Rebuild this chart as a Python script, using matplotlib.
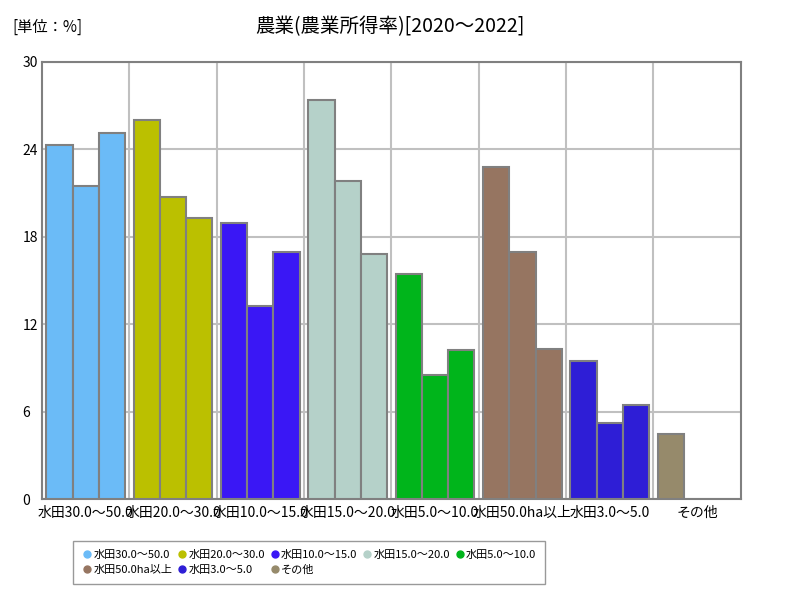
import numpy as np
import matplotlib.pyplot as plt

plt.rcParams['font.family'] = ['Noto Sans CJK JP', 'DejaVu Sans']

# ----------- Data -----------
categories = ["水田30.0～50.0", "水田20.0～30.0", "水田10.0～15.0", "水田15.0～20.0",
              "水田5.0～10.0", "水田50.0ha以上", "水田3.0～5.0", "その他"]
years = [2020, 2021, 2022]
v2020 = [24.3, 26.0, 18.95, 27.4, 15.45, 22.8, 9.47, 4.48]
v2021 = [21.5, 20.75, 13.25, 21.85, 8.55, 16.95, 5.2, np.nan]
v2022 = [25.1, 19.3, 16.97, 16.8, 10.25, 10.27, 6.47, np.nan]
colors = ["#6BBBF7", "#BBC000", "#3A17F5", "#B5D1C9",
          "#00B51B", "#967561", "#2E1ED6", "#968A6B"]

# ----------- Plot -----------
fig = plt.figure(figsize=(8, 6), dpi=100)
ax = fig.add_axes([0.0525, 0.168, 0.8735, 0.729])

x = np.arange(len(categories))
w = 0.3
for j, vals in enumerate([v2020, v2021, v2022]):
    ax.bar(x - w + j * w, vals, width=w, color=colors,
           edgecolor="#808080", linewidth=1.5, zorder=3)

ax.set_xlim(-0.5, len(categories) - 0.5)
ax.set_ylim(0, 30)
ax.set_yticks([0, 6, 12, 18, 24, 30])
ax.set_xticks(x)
ax.set_xticklabels(categories, fontsize=10)
ax.set_xticks(np.arange(0.5, len(categories) - 0.5, 1), minor=True)
ax.tick_params(axis="both", which="both", length=0)
ax.tick_params(axis="y", labelsize=10, pad=14)
ax.tick_params(axis="x", pad=5)
for lbl in ax.get_yticklabels():
    lbl.set_horizontalalignment("left")

ax.grid(True, axis="y", color="#C0C0C0", linewidth=1.5, zorder=0)
ax.grid(True, axis="x", which="minor", color="#C0C0C0", linewidth=1.5, zorder=0)
for s in ax.spines.values():
    s.set_color("#808080")
    s.set_linewidth(1.5)

fig.text(0.4875, 0.955, "農業(農業所得率)[2020～2022]", ha="center", va="center", fontsize=14)
fig.text(0.015, 0.955, "[単位：%]", ha="left", va="center", fontsize=11)

# legend filled row by row (matplotlib fills columns first)
order = [0, 5, 1, 6, 2, 7, 3, 4]
handles = [plt.Line2D([], [], marker="o", linestyle="", color=colors[i], markersize=5) for i in order]
labels = [categories[i] for i in order]
fig.legend(handles, labels, loc="upper left", bbox_to_anchor=(0.084, 0.108),
           ncol=5, fontsize=8, frameon=True, fancybox=False, edgecolor="#808080",
           handletextpad=0.05, columnspacing=0.4, borderpad=0.8, handlelength=1.0)

plt.savefig("out.png")
